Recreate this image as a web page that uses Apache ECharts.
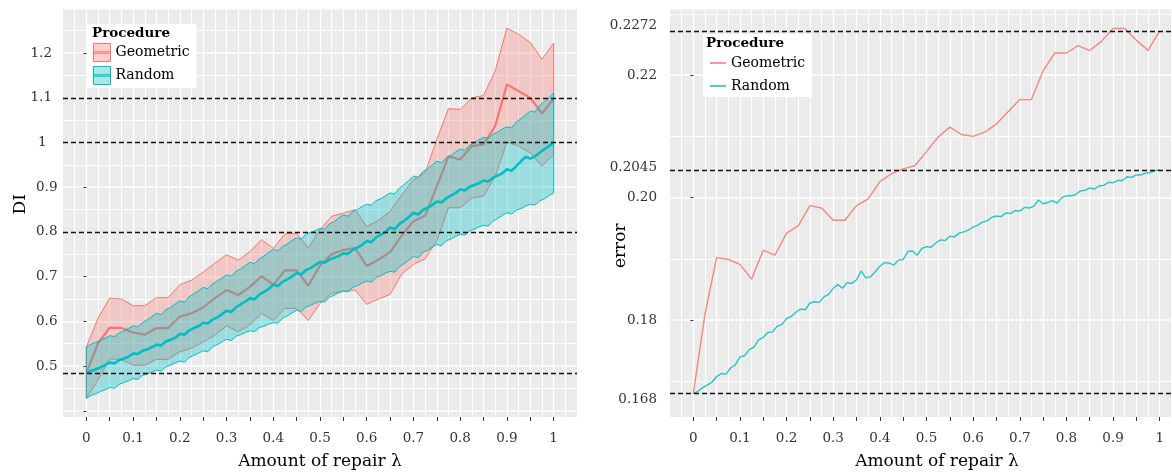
<!DOCTYPE html>
<html>
<head>
<meta charset="utf-8">
<title>DI and error vs amount of repair</title>
<script src="https://cdn.jsdelivr.net/npm/echarts@6/dist/echarts.min.js"></script>
<style>
  html, body { margin: 0; padding: 0; background: #fff; }
  #chart { width: 1172px; height: 472px; }
</style>
</head>
<body>
<div id="chart"></div>
<script>
// amount of repair (lambda) grids
var lamCoarse = [0,0.025,0.05,0.075,0.1,0.125,0.15,0.175,0.2,0.225,0.25,0.275,0.3,0.325,0.35,0.375,0.4,0.425,0.45,0.475,
  0.5,0.525,0.55,0.575,0.6,0.625,0.65,0.675,0.7,0.725,0.75,0.775,0.8,0.825,0.85,0.875,0.9,0.925,0.95,0.975,1];
var lamFine = [0,0.01,0.02,0.03,0.04,0.05,0.06,0.07,0.08,0.09,0.1,0.11,0.12,0.13,0.14,0.15,0.16,0.17,0.18,0.19,
  0.2,0.21,0.22,0.23,0.24,0.25,0.26,0.27,0.28,0.29,0.3,0.31,0.32,0.33,0.34,0.35,0.36,0.37,0.38,0.39,
  0.4,0.41,0.42,0.43,0.44,0.45,0.46,0.47,0.48,0.49,0.5,0.51,0.52,0.53,0.54,0.55,0.56,0.57,0.58,0.59,
  0.6,0.61,0.62,0.63,0.64,0.65,0.66,0.67,0.68,0.69,0.7,0.71,0.72,0.73,0.74,0.75,0.76,0.77,0.78,0.79,
  0.8,0.81,0.82,0.83,0.84,0.85,0.86,0.87,0.88,0.89,0.9,0.91,0.92,0.93,0.94,0.95,0.96,0.97,0.98,0.99,1];

// DI, Geometric procedure (mean and band)
var geoMean = [0.485,0.551,0.586,0.585,0.575,0.570,0.585,0.585,0.611,0.618,0.631,0.652,0.670,0.659,0.677,0.701,0.682,0.714,0.714,0.680,
  0.725,0.750,0.760,0.764,0.724,0.738,0.755,0.792,0.824,0.836,0.902,0.969,0.962,0.992,0.996,1.037,1.130,1.115,1.100,1.065,1.098];
var geoHi = [0.543,0.607,0.652,0.650,0.635,0.635,0.653,0.653,0.682,0.692,0.710,0.730,0.749,0.737,0.756,0.783,0.763,0.796,0.797,0.764,
  0.805,0.835,0.842,0.850,0.812,0.826,0.846,0.883,0.917,0.932,1.007,1.076,1.074,1.100,1.105,1.160,1.256,1.242,1.224,1.186,1.222];
var geoLo = [0.428,0.469,0.516,0.515,0.502,0.502,0.515,0.515,0.532,0.540,0.554,0.569,0.590,0.577,0.592,0.618,0.602,0.629,0.629,0.602,
  0.640,0.663,0.667,0.670,0.638,0.650,0.660,0.706,0.727,0.740,0.780,0.854,0.854,0.876,0.880,0.924,1.001,0.992,0.977,0.947,0.973];

// DI, Random procedure (mean and band)
var randMean = [0.485,0.489,0.493,0.497,0.502,0.508,0.506,0.513,0.517,0.521,0.528,0.527,0.534,0.537,0.542,0.548,0.546,0.555,0.559,0.563,
  0.572,0.570,0.580,0.585,0.589,0.597,0.595,0.604,0.609,0.616,0.624,0.621,0.631,0.638,0.644,0.652,0.649,0.660,0.666,0.672,
  0.682,0.679,0.689,0.694,0.700,0.708,0.705,0.715,0.719,0.726,0.733,0.731,0.738,0.742,0.746,0.752,0.751,0.760,0.765,0.771,
  0.780,0.777,0.788,0.794,0.800,0.810,0.806,0.818,0.825,0.833,0.843,0.839,0.849,0.854,0.860,0.868,0.866,0.875,0.881,0.887,
  0.895,0.893,0.901,0.905,0.909,0.915,0.913,0.921,0.926,0.931,0.940,0.937,0.947,0.958,0.968,0.964,0.969,0.977,0.985,0.992,1.000];
var randHi = [0.543,0.549,0.553,0.558,0.562,0.568,0.566,0.574,0.579,0.584,0.590,0.588,0.597,0.603,0.611,0.618,0.615,0.626,0.631,0.639,
  0.646,0.643,0.655,0.662,0.668,0.676,0.673,0.684,0.690,0.697,0.704,0.701,0.712,0.717,0.725,0.732,0.729,0.740,0.746,0.754,
  0.761,0.758,0.768,0.773,0.781,0.787,0.784,0.795,0.799,0.803,0.808,0.806,0.818,0.823,0.831,0.838,0.835,0.846,0.850,0.857,
  0.862,0.860,0.870,0.874,0.881,0.887,0.885,0.898,0.906,0.915,0.925,0.922,0.935,0.941,0.950,0.958,0.955,0.966,0.971,0.979,
  0.985,0.983,0.994,0.999,1.006,1.012,1.009,1.019,1.023,1.030,1.035,1.033,1.046,1.053,1.062,1.070,1.068,1.083,1.092,1.100,1.111];
var randLo = [0.428,0.434,0.438,0.443,0.447,0.452,0.450,0.459,0.463,0.467,0.472,0.470,0.479,0.482,0.487,0.491,0.489,0.498,0.502,0.507,
  0.511,0.509,0.519,0.524,0.529,0.534,0.532,0.543,0.548,0.554,0.560,0.557,0.567,0.570,0.575,0.579,0.577,0.586,0.589,0.594,
  0.597,0.596,0.607,0.612,0.619,0.625,0.622,0.632,0.636,0.641,0.645,0.643,0.654,0.658,0.664,0.668,0.666,0.676,0.680,0.686,
  0.690,0.688,0.698,0.702,0.708,0.712,0.710,0.722,0.729,0.737,0.745,0.742,0.754,0.759,0.766,0.772,0.769,0.780,0.784,0.790,
  0.795,0.793,0.802,0.806,0.811,0.815,0.813,0.824,0.830,0.837,0.843,0.840,0.849,0.852,0.858,0.862,0.860,0.869,0.874,0.881,0.887];

// error
var errGeo = [0.1680,0.1810,0.1902,0.1899,0.1891,0.1867,0.1914,0.1906,0.1942,0.1954,0.1987,0.1983,0.1963,0.1963,0.1987,0.1998,0.2026,0.2039,0.2047,0.2052,
  0.2075,0.2099,0.2115,0.2103,0.2100,0.2107,0.2120,0.2140,0.2160,0.2160,0.2207,0.2236,0.2236,0.2248,0.2240,0.2255,0.2276,0.2276,0.2257,0.2240,0.2272];
var errRand = [0.1680,0.1684,0.1690,0.1694,0.1699,0.1708,0.1713,0.1712,0.1722,0.1727,0.1740,0.1742,0.1752,0.1756,0.1768,0.1772,0.1780,0.1781,0.1790,0.1793,
  0.1803,0.1806,0.1813,0.1818,0.1817,0.1828,0.1830,0.1829,0.1838,0.1842,0.1852,0.1858,0.1852,0.1861,0.1860,0.1866,0.1880,0.1869,0.1871,0.1879,
  0.1888,0.1894,0.1893,0.1890,0.1898,0.1899,0.1912,0.1913,0.1906,0.1917,0.1920,0.1919,0.1926,0.1931,0.1930,0.1937,0.1936,0.1942,0.1944,0.1947,
  0.1952,0.1955,0.1960,0.1962,0.1968,0.1970,0.1969,0.1975,0.1974,0.1979,0.1978,0.1984,0.1983,0.1986,0.1996,0.1990,0.1992,0.1995,0.1991,0.2000,
  0.2003,0.2003,0.2005,0.2011,0.2012,0.2016,0.2014,0.2019,0.2020,0.2025,0.2024,0.2028,0.2028,0.2034,0.2033,0.2037,0.2037,0.2040,0.2041,0.2044,0.2045];

// reference lines and ticks
var diRefs = [1.1, 1, 0.8, 0.485];
var errRefs = [0.2272, 0.2045, 0.168];
var xTicks = [0,0.05,0.1,0.15,0.2,0.25,0.3,0.35,0.4,0.45,0.5,0.55,0.6,0.65,0.7,0.75,0.8,0.85,0.9,0.95,1];
var xLabels = [0,0.1,0.2,0.3,0.4,0.5,0.6,0.7,0.8,0.9,1];
var diTicks = [0.4,0.5,0.6,0.7,0.9,1.2];
var diLabels = [0.5,0.6,0.7,0.8,0.9,1,1.1,1.2];
var errTicks = [0.18,0.20,0.22];
var errLabels = [0.168,0.18,0.20,0.2045,0.22,0.2272];

var FONT = 'DejaVu Serif';
var RED = '#F8766D', CYAN = '#00BFC4';

function pairs(xs, ys) { return xs.map(function (x, i) { return [x, ys[i]]; }); }
function triples(xs, lo, hi) { return xs.map(function (x, i) { return [x, lo[i], hi[i]]; }); }

// ribbon drawn as one polygon through the axes' coords
function ribbon(xs, lo, hi, fill, stroke) {
  return function (params, api) {
    if (params.dataIndex !== 0) return null;
    var pts = [];
    for (var i = 0; i < xs.length; i++) pts.push(api.coord([xs[i], hi[i]]));
    for (var j = xs.length - 1; j >= 0; j--) pts.push(api.coord([xs[j], lo[j]]));
    return { type: 'polygon', shape: { points: pts }, style: { fill: fill, stroke: stroke, lineWidth: 1 } };
  };
}

function xAxisFor(idx, namePad) {
  return {
    type: 'value', gridIndex: idx, min: -0.05, max: 1.05, interval: 0.05,
    name: 'Amount of repair λ', nameLocation: 'middle', nameGap: 36, nameMoveOverlap: false,
    nameTextStyle: { fontFamily: FONT, fontSize: 17, color: '#000', padding: namePad },
    axisLine: { show: false },
    axisTick: { show: true, length: 4, customValues: xTicks, lineStyle: { color: '#333', width: 1 } },
    axisLabel: { customValues: xLabels, formatter: function (v) { return String(v); },
      margin: 14, fontFamily: FONT, fontSize: 13.5, color: '#333' },
    splitLine: { show: true, lineStyle: { color: '#fff', width: 1.3 } },
    minorTick: { show: false, splitNumber: 2 },
    minorSplitLine: { show: true, lineStyle: { color: '#fff', width: 1 } }
  };
}

function refLines(values) {
  return { silent: true, symbol: 'none', precision: 6, label: { show: false },
    lineStyle: { color: '#111', type: [5, 3], width: 1.4 },
    data: values.map(function (v) { return { yAxis: v }; }) };
}

var option = {
  animation: false,
  backgroundColor: '#fff',
  title: [
    { text: 'Procedure', left: 92, top: 26, padding: 0,
      textStyle: { fontFamily: FONT, fontWeight: 'bold', fontSize: 13.5, color: '#000' } },
    { text: 'Procedure', left: 706, top: 36, padding: 0,
      textStyle: { fontFamily: FONT, fontWeight: 'bold', fontSize: 13.5, color: '#000' } }
  ],
  legend: [
    { left: 87, top: 24, orient: 'vertical', backgroundColor: '#fff', padding: [19, 7, 3, 6],
      itemGap: 4, itemWidth: 17, itemHeight: 18, selectedMode: false,
      textStyle: { fontFamily: FONT, fontSize: 14, color: '#000' },
      data: [
        { name: 'Geometric', icon: 'path://M0,0H17V18H0Z M0,8.3H17V9.7H0Z',
          itemStyle: { color: 'rgba(248,118,109,0.35)', borderColor: RED, borderWidth: 1 } },
        { name: 'Random', icon: 'path://M0,0H17V18H0Z M0,8.3H17V9.7H0Z',
          itemStyle: { color: 'rgba(0,191,196,0.35)', borderColor: CYAN, borderWidth: 1 } }
      ] },
    { left: 703, top: 34, orient: 'vertical', backgroundColor: '#fff', padding: [22, 7, 4, 7],
      itemGap: 9, itemWidth: 16, itemHeight: 1.5, selectedMode: false,
      textStyle: { fontFamily: FONT, fontSize: 14, color: '#000' },
      data: [
        { name: 'Geometric', icon: 'rect', itemStyle: { color: RED, borderWidth: 0 } },
        { name: 'Random', icon: 'rect', itemStyle: { color: CYAN, borderWidth: 0 } }
      ] }
  ],
  grid: [
    { left: 63, top: 9.5, width: 514, height: 407.5, show: true, backgroundColor: '#EBEBEB', borderWidth: 0,
      containLabel: false, outerBoundsMode: 'none' },
    { left: 670, top: 9.5, right: -11, height: 407.5, show: true, backgroundColor: '#EBEBEB', borderWidth: 0,
      containLabel: false, outerBoundsMode: 'none' }
  ],
  xAxis: [xAxisFor(0, [0, 0, 0, 0]), xAxisFor(1, [0, 0, 0, 21])],
  yAxis: [
    { type: 'value', gridIndex: 0, min: 0.3861, max: 1.2975, splitNumber: 9,
      name: 'DI', nameLocation: 'middle', nameGap: 34, nameMoveOverlap: false,
      nameTextStyle: { fontFamily: FONT, fontSize: 17, color: '#000', padding: [0, 0, 0, 18] },
      axisLine: { show: false },
      axisTick: { show: true, length: 3, customValues: diTicks, lineStyle: { color: '#333', width: 1 } },
      axisLabel: { customValues: diLabels, margin: 5.5, fontFamily: FONT, fontSize: 13.5, color: '#333',
        formatter: function (v) {
          var s = String(v);
          if (v >= 1) return (s === '1' ? '{one|' : '{big|') + s + '}';
          return s;
        },
        rich: { one: { padding: [0, 11, 0, 0] }, big: { padding: [0, 5.5, 0, 0] } } },
      splitLine: { show: true, lineStyle: { color: '#fff', width: 1.6 } },
      minorTick: { show: false, splitNumber: 2 },
      minorSplitLine: { show: true, lineStyle: { color: '#fff', width: 0.9 } } },
    { type: 'value', gridIndex: 1, min: 0.1642, max: 0.2307, splitNumber: 3,
      name: 'error', nameLocation: 'middle', nameGap: 41, nameMoveOverlap: false,
      nameTextStyle: { fontFamily: FONT, fontSize: 17, color: '#000', padding: [0, 65, 0, 0] },
      axisLine: { show: false },
      axisTick: { show: true, length: 3, customValues: errTicks, lineStyle: { color: '#333', width: 1 } },
      axisLabel: { customValues: errLabels, margin: 13, fontFamily: FONT, fontSize: 13.5, color: '#333',
        formatter: function (v) {
          var k = errRefs.indexOf(v);
          if (k === 0) return '{up2|' + v + '}';
          if (k === 1) return '{up1|' + v + '}';
          if (k === 2) return '{down|' + v + '}';
          return v.toFixed(2);
        },
        rich: { up2: { padding: [0, 0, 11, 0] }, up1: { padding: [0, 0, 5, 0] }, down: { padding: [12, 0, 0, 0] } } },
      splitLine: { show: true, lineStyle: { color: '#fff', width: 1.6 } },
      minorTick: { show: false, splitNumber: 2 },
      minorSplitLine: { show: true, lineStyle: { color: '#fff', width: 0.9 } } }
  ],
  series: [
    { name: 'Geometric', type: 'custom', xAxisIndex: 0, yAxisIndex: 0, z: 1,
      renderItem: ribbon(lamCoarse, geoLo, geoHi, 'rgba(248,118,109,0.3)', RED),
      encode: { x: 0, y: [1, 2] }, data: triples(lamCoarse, geoLo, geoHi), silent: true },
    { name: 'Geometric', type: 'line', xAxisIndex: 0, yAxisIndex: 0, z: 2, showSymbol: false, silent: true,
      lineStyle: { color: RED, width: 2.2 }, itemStyle: { color: RED }, data: pairs(lamCoarse, geoMean) },
    { name: 'Random', type: 'custom', xAxisIndex: 0, yAxisIndex: 0, z: 3,
      renderItem: ribbon(lamFine, randLo, randHi, 'rgba(0,191,196,0.33)', CYAN),
      encode: { x: 0, y: [1, 2] }, data: triples(lamFine, randLo, randHi), silent: true },
    { name: 'Random', type: 'line', xAxisIndex: 0, yAxisIndex: 0, z: 4, showSymbol: false, silent: true,
      lineStyle: { color: CYAN, width: 2.6 }, itemStyle: { color: CYAN }, data: pairs(lamFine, randMean),
      markLine: refLines(diRefs) },
    { name: 'Geometric', type: 'line', xAxisIndex: 1, yAxisIndex: 1, showSymbol: false, silent: true,
      lineStyle: { color: RED, width: 1.4, opacity: 0.85 }, itemStyle: { color: RED }, data: pairs(lamCoarse, errGeo) },
    { name: 'Random', type: 'line', xAxisIndex: 1, yAxisIndex: 1, showSymbol: false, silent: true,
      lineStyle: { color: CYAN, width: 1.4, opacity: 0.85 }, itemStyle: { color: CYAN }, data: pairs(lamFine, errRand),
      markLine: refLines(errRefs) }
  ]
};

var chart = echarts.init(document.getElementById('chart'), null, { renderer: 'canvas' });
chart.setOption(option);
</script>
</body>
</html>
